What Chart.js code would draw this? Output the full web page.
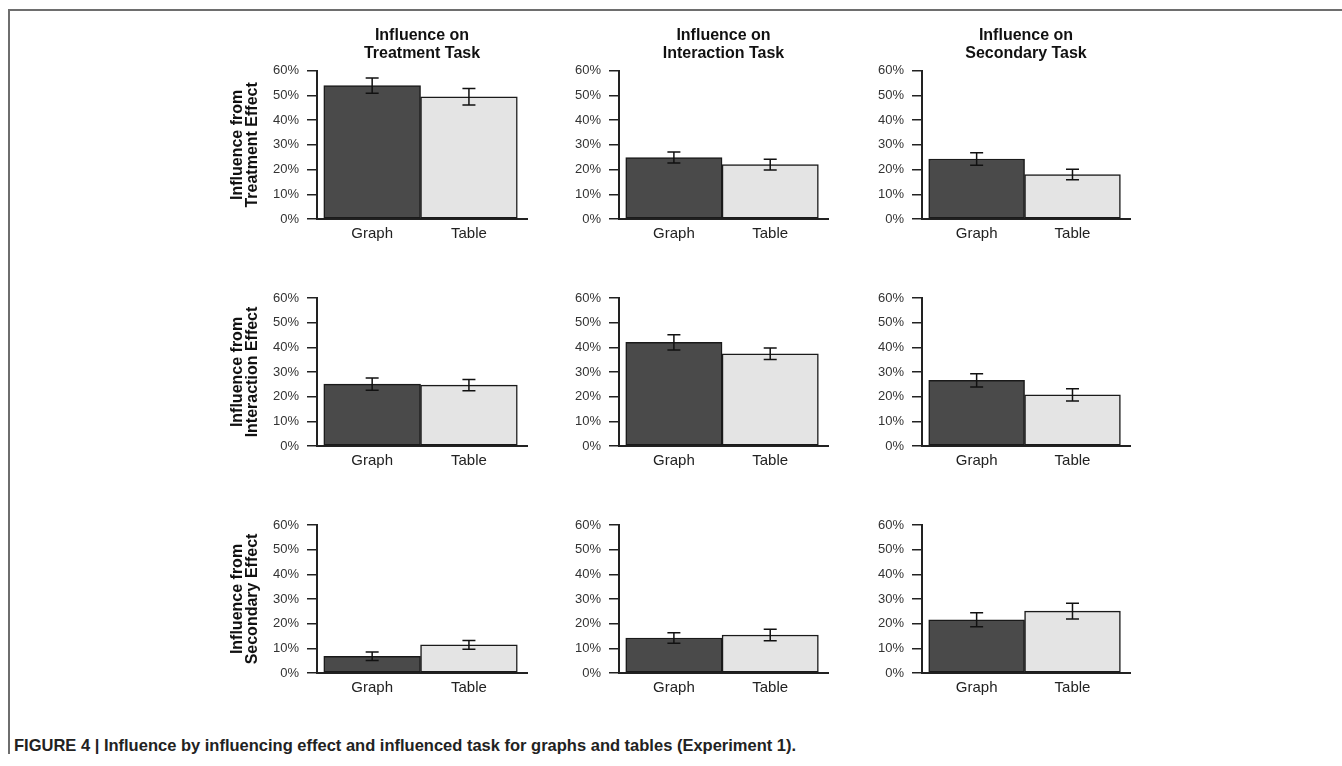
<!DOCTYPE html>
<html>
<head>
<meta charset="utf-8">
<script src="https://cdn.jsdelivr.net/npm/chart.js@4"></script>
<style>
body { margin: 0; background: #fff; width: 1342px; height: 766px; overflow: hidden; position: relative; font-family: "Liberation Sans", Arial, sans-serif; }
#frameTop { position: absolute; left: 8px; top: 9px; width: 1334px; height: 2px; background: #6e6e6e; }
#frameLeft { position: absolute; left: 8px; top: 9px; width: 2px; height: 745px; background: #6e6e6e; }
canvas { position: absolute; }
#caption { position: absolute; left: 14px; top: 736px; font: bold 16.5px "Liberation Sans Narrow", "Liberation Sans", Arial, sans-serif; color: #222; white-space: nowrap; }
</style>
</head>
<body>
<div id="frameTop"></div>
<div id="frameLeft"></div>
<div id="charts"></div>
<div id="caption">FIGURE 4 | Influence by influencing effect and influenced task for graphs and tables (Experiment 1).</div>
<script>
const categories = ['Graph', 'Table'];
const tasks = ['Treatment Task', 'Interaction Task', 'Secondary Task'];
const effects = ['Treatment Effect', 'Interaction Effect', 'Secondary Effect'];
const yTicks = [0, 10, 20, 30, 40, 50, 60];

// rows = influencing effect, columns = influenced task (percent)
const graphValues = [[54.0, 24.9, 24.3], [25.1, 42.0, 26.6], [6.8, 14.2, 21.6]];
const tableValues = [[49.5, 22.0, 18.0], [24.7, 37.4, 20.7], [11.4, 15.4, 25.1]];
const graphErrors = [[3.1, 2.2, 2.5], [2.5, 3.1, 2.7], [1.7, 2.1, 2.8]];
const tableErrors = [[3.3, 2.2, 2.1], [2.3, 2.3, 2.5], [1.8, 2.3, 3.2]];

// layout of the panels
const axisLeft = [317, 619, 922];
const plotWidth = [210, 209, 208];
const plotTop = [71, 298, 525];
const plotHeight = 148;
const yAxisWidth = 110;
const xAxisHeight = 40;
const headHeight = 61;  // room for the column titles
const padTop = 20;
const padRight = 10;

Chart.defaults.font.family = '"Liberation Sans", Arial, sans-serif';
Chart.defaults.animation = false;

const errorBars = {
    id: 'errorBars',
    afterDatasetsDraw(chart) {
        const ctx = chart.ctx;
        const y = chart.scales.y;
        const ds = chart.data.datasets[0];
        const meta = chart.getDatasetMeta(0);
        ctx.save();
        ctx.strokeStyle = '#111';
        ctx.lineWidth = 1.5;
        meta.data.forEach((bar, i) => {
            const v = ds.data[i].y;
            const e = ds.errors[i];
            const top = y.getPixelForValue(v + e);
            const bot = y.getPixelForValue(v - e);
            ctx.beginPath();
            ctx.moveTo(bar.x, top); ctx.lineTo(bar.x, bot);
            ctx.moveTo(bar.x - 6.5, top); ctx.lineTo(bar.x + 6.5, top);
            ctx.moveTo(bar.x - 6.5, bot); ctx.lineTo(bar.x + 6.5, bot);
            ctx.stroke();
        });
        ctx.restore();
    }
};

const holder = document.getElementById('charts');

for (let r = 0; r < 3; r++) {
    for (let c = 0; c < 3; c++) {
        const top = r === 0 ? headHeight : padTop;
        const canvas = document.createElement('canvas');
        canvas.width = yAxisWidth + plotWidth[c] + padRight;
        canvas.height = top + plotHeight + xAxisHeight;
        canvas.style.left = (axisLeft[c] - yAxisWidth) + 'px';
        canvas.style.top = (plotTop[r] - top) + 'px';
        holder.appendChild(canvas);

        new Chart(canvas, {
            type: 'bar',
            data: {
                datasets: [{
                    data: [{x: 1, y: graphValues[r][c]}, {x: 2, y: tableValues[r][c]}],
                    errors: [graphErrors[r][c], tableErrors[r][c]],
                    backgroundColor: ['#4a4a4a', '#e4e4e4'],
                    borderColor: '#1a1a1a',
                    borderWidth: 1.5,
                    borderSkipped: false,
                    barPercentage: 1,
                    categoryPercentage: 1
                }]
            },
            options: {
                responsive: false,
                layout: {padding: {top: r === 0 ? 0 : padTop, right: padRight, left: 0, bottom: 0}},
                plugins: {
                    legend: {display: false},
                    tooltip: {enabled: false},
                    title: {
                        display: r === 0,
                        text: ['Influence on', tasks[c]],
                        fullSize: false,
                        color: '#111',
                        font: {size: 16, weight: 'bold', lineHeight: 1.15},
                        padding: {top: 16, bottom: 8}
                    }
                },
                scales: {
                    x: {
                        type: 'linear',
                        min: 0.43,
                        max: 2.6,
                        offset: false,
                        afterBuildTicks: s => { s.ticks = [{value: 1}, {value: 2}]; },
                        afterFit: s => { s.height = xAxisHeight; },
                        grid: {display: false, drawTicks: false},
                        border: {display: true, color: '#222', width: 2},
                        ticks: {
                            callback: v => categories[v - 1],
                            color: '#222',
                            font: {size: 15},
                            padding: 6,
                            autoSkip: false,
                            maxRotation: 0
                        }
                    },
                    y: {
                        min: 0,
                        max: 60,
                        afterBuildTicks: s => { s.ticks = yTicks.map(v => ({value: v})); },
                        afterFit: s => { s.width = yAxisWidth; },
                        grid: {drawOnChartArea: false, drawTicks: true, tickLength: 10, color: '#222', lineWidth: 1.5},
                        border: {color: '#222', width: 2},
                        ticks: {callback: v => v + '%', color: '#333', font: {size: 13}, padding: 8},
                        title: {
                            display: c === 0,
                            text: ['Influence from', effects[r]],
                            color: '#111',
                            font: {size: 16, weight: 'bold', lineHeight: 0.95},
                            padding: {top: 23, bottom: 0}
                        }
                    }
                }
            },
            plugins: [errorBars]
        });
    }
}
</script>
</body>
</html>
